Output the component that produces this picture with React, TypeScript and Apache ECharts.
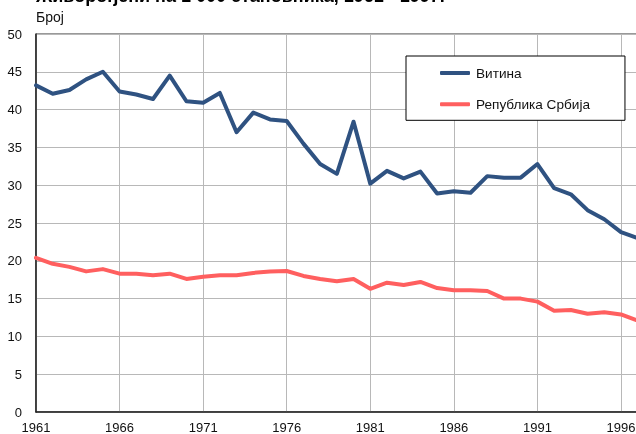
import React, { useEffect, useRef } from "react";
import * as echarts from "echarts";

const years: string[] = [
  "1961","1962","1963","1964","1965","1966","1967","1968","1969","1970",
  "1971","1972","1973","1974","1975","1976","1977","1978","1979","1980",
  "1981","1982","1983","1984","1985","1986","1987","1988","1989","1990",
  "1991","1992","1993","1994","1995","1996","1997",
];

const vitina: number[] = [
  43.2, 42.1, 42.6, 44.0, 45.0, 42.4, 42.0, 41.4, 44.5, 41.1,
  40.9, 42.2, 37.0, 39.6, 38.7, 38.5, 35.5, 32.8, 31.5, 38.4,
  30.2, 31.9, 30.9, 31.8, 28.9, 29.2, 29.0, 31.2, 31.0, 31.0,
  32.8, 29.6, 28.8, 26.7, 25.5, 23.8, 23.0,
];

const serbia: number[] = [
  20.4, 19.6, 19.2, 18.6, 18.9, 18.3, 18.3, 18.1, 18.3, 17.6,
  17.9, 18.1, 18.1, 18.4, 18.6, 18.65, 18.0, 17.6, 17.3, 17.6,
  16.3, 17.1, 16.8, 17.2, 16.4, 16.1, 16.1, 16.0, 15.0, 15.0,
  14.6, 13.4, 13.5, 13.0, 13.2, 12.9, 12.1,
];

const seriesNames: string[] = ["Витина", "Република Србија"];
const titleText = "Живорођени на 1 000 становника, 1961 - 1997.";
const yAxisTitle = "Број";

const FONT = "'Liberation Sans', Arial, sans-serif";
const OFFSET = 20;

export default function App() {
  const ref = useRef<HTMLDivElement>(null);
  useEffect(() => {
    if (!ref.current) return;
    const chart = echarts.init(ref.current, undefined, { renderer: "svg" });
    chart.setOption({
      animation: false,
      textStyle: { fontFamily: FONT },
      title: {
        text: titleText,
        left: 36,
        top: 7,
        padding: 0,
        textStyle: { fontFamily: FONT, fontSize: 18, fontWeight: "bold", color: "#000" },
      },
      graphic: [
        {
          type: "text",
          left: 36,
          top: 10 + OFFSET,
          style: { text: yAxisTitle, fontFamily: FONT, fontSize: 14, fill: "#111" },
        },
      ],
      legend: {
        data: seriesNames,
        orient: "vertical",
        left: 406,
        top: 56 + OFFSET,
        padding: [10, 35, 9, 34],
        itemGap: 17.3,
        itemWidth: 30,
        itemHeight: 4,
        icon: "roundRect",
        borderColor: "#000",
        borderWidth: 1,
        backgroundColor: "#fff",
        textStyle: { fontFamily: FONT, fontSize: 13.6, color: "#111", padding: [0, 0, 0, 1] },
      },
      grid: {
        left: 36,
        right: 22.3,
        top: 34 + OFFSET,
        bottom: 22,
        containLabel: false,
        outerBoundsMode: "none",
        show: true,
        borderColor: "#333",
        borderWidth: 1,
      },
      xAxis: {
        type: "category",
        data: years,
        boundaryGap: false,
        axisLine: { show: true, lineStyle: { color: "#222", width: 1.5 } },
        axisTick: { show: false },
        axisLabel: {
          interval: 4,
          fontFamily: FONT,
          fontSize: 13,
          color: "#111",
          margin: 8.5,
        },
        splitLine: {
          show: true,
          interval: 4,
          lineStyle: { color: "#b8b8b8", width: 1 },
        },
      },
      yAxis: {
        type: "value",
        min: 0,
        max: 50,
        interval: 5,
        axisLine: { show: true, lineStyle: { color: "#222", width: 1.5 } },
        axisTick: { show: false },
        axisLabel: { fontFamily: FONT, fontSize: 13, color: "#111", margin: 14 },
        splitLine: { show: true, lineStyle: { color: "#b8b8b8", width: 1 } },
      },
      series: [
        {
          name: seriesNames[0],
          type: "line",
          data: vitina,
          symbol: "none",
          lineStyle: { color: "#2f5281", width: 4, join: "round", cap: "round" },
          itemStyle: { color: "#2f5281" },
          z: 3,
        },
        {
          name: seriesNames[1],
          type: "line",
          data: serbia,
          symbol: "none",
          lineStyle: { color: "#ff5f5f", width: 4, join: "round", cap: "round" },
          itemStyle: { color: "#ff5f5f" },
          z: 2,
        },
      ],
    });
    return () => chart.dispose();
  }, []);
  return (
    <div
      ref={ref}
      style={{ position: "fixed", left: 0, top: -OFFSET, width: 660, height: 454 }}
    />
  );
}
